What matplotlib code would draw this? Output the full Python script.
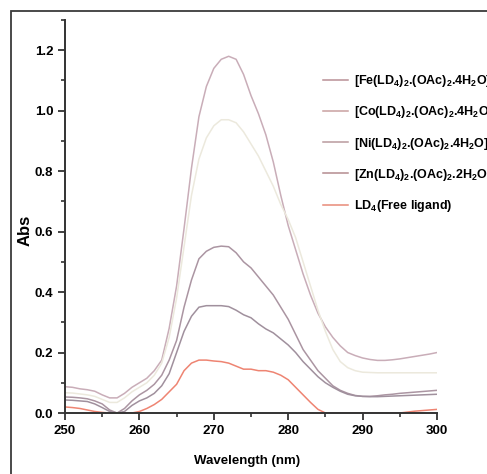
import matplotlib
matplotlib.use("Agg")
import matplotlib.pyplot as plt
from matplotlib.patches import Rectangle
from matplotlib.ticker import MultipleLocator

plt.rcParams['font.family'] = ['Liberation Sans Narrow', 'Liberation Sans', 'DejaVu Sans']
plt.rcParams['font.weight'] = 'bold'
plt.rcParams['mathtext.fontset'] = 'custom'
plt.rcParams['mathtext.rm'] = 'Liberation Sans:bold'
plt.rcParams['mathtext.it'] = 'Liberation Sans:bold'
plt.rcParams['mathtext.bf'] = 'Liberation Sans:bold'

wavelength = list(range(250, 301))

fe = [0.087, 0.085, 0.080, 0.077, 0.072, 0.060, 0.050, 0.050, 0.065, 0.085,
      0.100, 0.115, 0.140, 0.175, 0.280, 0.420, 0.610, 0.810, 0.980, 1.080,
      1.140, 1.170, 1.180, 1.170, 1.120, 1.050, 0.990, 0.920, 0.830, 0.720,
      0.620, 0.540, 0.460, 0.390, 0.330, 0.285, 0.250, 0.222, 0.200, 0.190,
      0.182, 0.177, 0.174, 0.174, 0.176, 0.179, 0.183, 0.187, 0.191, 0.195, 0.200]

co = [0.067, 0.066, 0.063, 0.060, 0.055, 0.045, 0.035, 0.035, 0.050, 0.070,
      0.085, 0.100, 0.125, 0.165, 0.250, 0.380, 0.550, 0.720, 0.840, 0.910,
      0.950, 0.970, 0.970, 0.960, 0.930, 0.890, 0.850, 0.800, 0.750, 0.690,
      0.640, 0.580, 0.500, 0.420, 0.340, 0.270, 0.210, 0.170, 0.150, 0.140,
      0.135, 0.134, 0.133, 0.133, 0.133, 0.133, 0.133, 0.133, 0.133, 0.133, 0.133]

ni = [0.053, 0.052, 0.050, 0.047, 0.040, 0.030, 0.010, 0.000, 0.015, 0.040,
      0.060, 0.075, 0.095, 0.125, 0.175, 0.240, 0.350, 0.440, 0.510, 0.535,
      0.548, 0.552, 0.550, 0.530, 0.500, 0.480, 0.450, 0.420, 0.390, 0.350,
      0.310, 0.260, 0.210, 0.175, 0.140, 0.115, 0.090, 0.075, 0.065, 0.058,
      0.055, 0.055, 0.057, 0.060, 0.062, 0.065, 0.067, 0.069, 0.071, 0.073, 0.075]

zn = [0.043, 0.042, 0.040, 0.038, 0.030, 0.018, 0.005, 0.000, 0.005, 0.025,
      0.040, 0.050, 0.065, 0.090, 0.130, 0.200, 0.270, 0.320, 0.350, 0.355,
      0.355, 0.355, 0.352, 0.340, 0.325, 0.315, 0.295, 0.278, 0.265, 0.245,
      0.225, 0.200, 0.170, 0.145, 0.120, 0.100, 0.085, 0.072, 0.062, 0.057,
      0.055, 0.054, 0.054, 0.055, 0.056, 0.057, 0.058, 0.059, 0.060, 0.061, 0.062]

ligand = [0.020, 0.018, 0.015, 0.010, 0.005, 0.002, 0.000, 0.000, 0.000, 0.000,
          0.005, 0.015, 0.028, 0.045, 0.070, 0.095, 0.140, 0.165, 0.175, 0.175,
          0.172, 0.170, 0.165, 0.155, 0.145, 0.145, 0.140, 0.140, 0.135, 0.125,
          0.110, 0.085, 0.060, 0.035, 0.012, 0.000, 0.000, 0.000, 0.000, 0.000,
          0.000, 0.000, 0.000, 0.000, 0.000, 0.000, 0.003, 0.006, 0.008, 0.010, 0.012]

labels = [r'[Fe(LD$_4$)$_2$.(OAc)$_2$.4H$_2$O]',
          r'[Co(LD$_4$)$_2$.(OAc)$_2$.4H$_2$O]',
          r'[Ni(LD$_4$)$_2$.(OAc)$_2$.4H$_2$O]',
          r'[Zn(LD$_4$)$_2$.(OAc)$_2$.2H$_2$O]',
          r'LD$_4$(Free ligand)']
series = [fe, co, ni, zn, ligand]
colors = ['#c9adb8', '#ece9dd', '#ab95a2', '#a0909d', '#ee8472']
legend_colors = ['#b99096', '#c9a0a0', '#b99a9e', '#b48c90', '#e88a78']

W, H = 487, 474
fig = plt.figure(figsize=(W / 100, H / 100), dpi=100)
fig.patch.set_facecolor('white')

# outer frame
fig.add_artist(Rectangle((11 / W, -0.1), 1.2, 1 - 11 / H + 0.1, transform=fig.transFigure,
                         fill=False, edgecolor='#3a3a3a', lw=1.3))

ax = fig.add_axes([65 / W, 1 - 413 / H, (437 - 65) / W, (413 - 20) / H])
for y, lab, c in zip(series, labels, colors):
    ax.plot(wavelength, y, color=c, lw=1.1, label=lab)

ax.set_xlim(250, 300)
ax.set_ylim(0, 1.3)
ax.xaxis.set_major_locator(MultipleLocator(10))
ax.xaxis.set_minor_locator(MultipleLocator(5))
ax.yaxis.set_minor_locator(MultipleLocator(0.1))
ax.set_yticks([0.0, 0.2, 0.4, 0.6, 0.8, 1.0, 1.2])
ax.set_yticklabels(['0.0', '0.2', '0.4', '0.6', '0.8', '1.0', '1.2'])
for s in ['top', 'right']:
    ax.spines[s].set_visible(False)
for s in ['left', 'bottom']:
    ax.spines[s].set_color('#333333')
    ax.spines[s].set_linewidth(1.4)
ax.tick_params(which='major', direction='out', length=5, width=1.3, color='#333333',
               labelsize=9.5, pad=3.5)
ax.tick_params(which='minor', direction='out', length=3, width=1.2, color='#333333')
for t in ax.get_xticklabels() + ax.get_yticklabels():
    t.set_fontweight('bold')

fig.text(247 / W, 1 - 461 / H, 'Wavelength (nm)', ha='center', va='center',
         fontsize=9.5, fontweight='bold')
fig.text(25 / W, 1 - 230 / H, 'Abs', ha='center', va='center', rotation=90,
         fontsize=12, fontweight='bold')

leg = ax.legend(loc='upper left', bbox_to_anchor=(323 / W, 1 - 73 / H),
                bbox_transform=fig.transFigure,
                frameon=False, handlelength=2.0, handletextpad=0.45,
                labelspacing=1.22, borderpad=0, borderaxespad=0,
                prop={'weight': 'bold', 'size': 9})
for h, c in zip(leg.get_lines(), legend_colors):
    h.set_color(c)

fig.savefig('out.png', dpi=100)
